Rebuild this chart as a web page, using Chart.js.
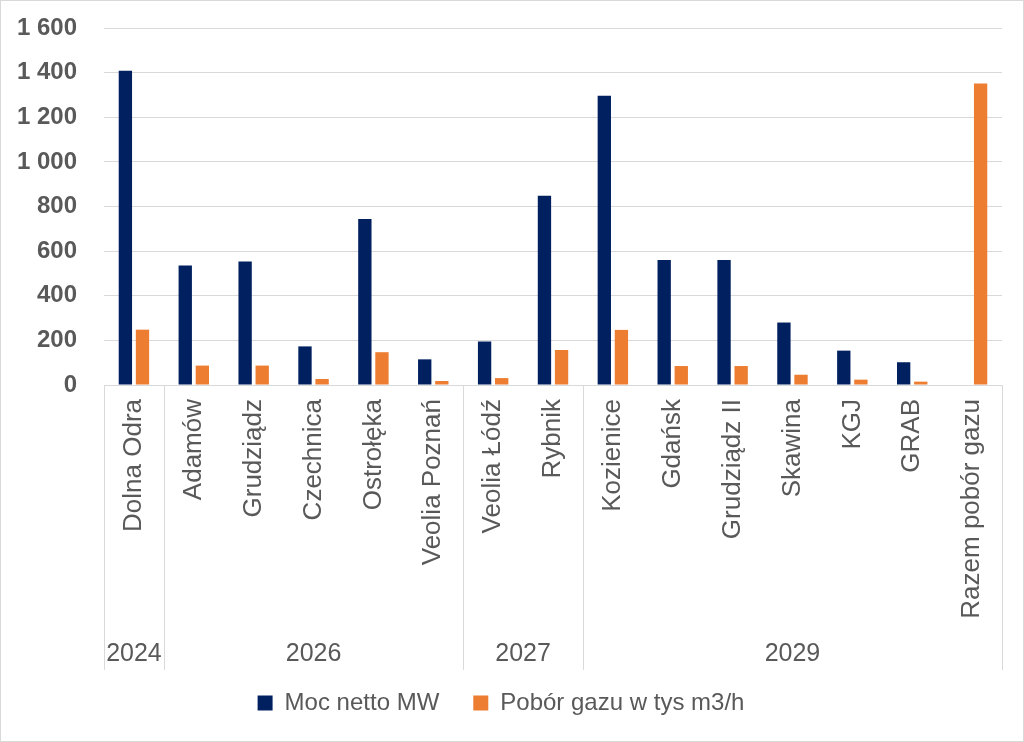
<!DOCTYPE html>
<html lang="pl">
<head>
<meta charset="utf-8">
<title>Moc netto i pobór gazu</title>
<script src="https://cdn.jsdelivr.net/npm/chart.js@4/dist/chart.umd.min.js"></script>
<style>
    html, body { margin: 0; padding: 0; background: #fff; }
    #wrap { width: 1024px; height: 742px; }
</style>
</head>
<body>
<div id="wrap"><canvas id="chart" width="1024" height="742"></canvas></div>
<script>
// --- DONNÉES ---
const categories = ['Dolna Odra', 'Adamów', 'Grudziądz', 'Czechnica', 'Ostrołęka', 'Veolia Poznań',
    'Veolia Łódź', 'Rybnik', 'Kozienice', 'Gdańsk', 'Grudziądz II', 'Skawina', 'KGJ', 'GRAB', 'Razem pobór gazu'];
const mocNetto = [1408, 536, 553, 173, 744, 115, 195, 848, 1296, 560, 560, 280, 154, 102, null];
const poborGazu = [248, 87, 87, 27, 147, 18, 31, 157, 247, 85, 85, 46, 24, 15, 1351];
const yearLabels = ['2024', '2026', '2027', '2029'];
const yearSpans = [1, 5, 2, 7];
const yTicks = [0, 200, 400, 600, 800, 1000, 1200, 1400, 1600];

const FONT = "'Liberation Sans', Arial, sans-serif";
const TEXT_GRAY = '#595959';
const LINE_GRAY = '#d9d9d9';

// "1 600" : séparateur de milliers par espace
const formatTick = (v) => String(v).replace(/\B(?=(\d{3})+(?!\d))/g, ' ');

// --- Second niveau de l'axe X (années) + cadre ---
const yearRowPlugin = {
    id: 'yearRow',
    afterDraw(chart) {
        const { ctx, chartArea, scales: { x } } = chart;
        const w = (x.right - x.left) / categories.length;
        const top = chartArea.bottom;
        const bottom = top + 285;

        ctx.save();
        ctx.strokeStyle = LINE_GRAY;
        ctx.lineWidth = 1;

        let idx = 0;
        const edges = [0];
        yearSpans.forEach(s => { idx += s; edges.push(idx); });
        edges.forEach(e => {
            const px = Math.round(x.left + e * w) + 0.5;
            ctx.beginPath();
            ctx.moveTo(px, top);
            ctx.lineTo(px, bottom);
            ctx.stroke();
        });

        ctx.fillStyle = TEXT_GRAY;
        ctx.font = `25px ${FONT}`;
        ctx.textAlign = 'center';
        ctx.textBaseline = 'middle';
        yearLabels.forEach((label, i) => {
            const cx = x.left + (edges[i] + edges[i + 1]) / 2 * w;
            ctx.fillText(label, cx, top + 269);
        });

        // cadre extérieur
        ctx.strokeRect(0.5, 0.5, chart.width - 1, chart.height - 1);
        ctx.restore();
    }
};

const whiteBg = {
    id: 'whiteBg',
    beforeDraw(chart) {
        const { ctx } = chart;
        ctx.save();
        ctx.fillStyle = '#fff';
        ctx.fillRect(0, 0, chart.width, chart.height);
        ctx.restore();
    }
};

new Chart(document.getElementById('chart'), {
    type: 'bar',
    data: {
        labels: categories,
        datasets: [
            {
                label: 'Moc netto MW',
                data: mocNetto,
                backgroundColor: '#002060',
                categoryPercentage: 0.571,
                barPercentage: 0.78
            },
            {
                label: 'Pobór gazu w tys m3/h',
                data: poborGazu,
                backgroundColor: '#ED7D31',
                categoryPercentage: 0.571,
                barPercentage: 0.78
            }
        ]
    },
    options: {
        responsive: false,
        animation: false,
        layout: { padding: { top: 28, right: 22, bottom: 17, left: 0 } },
        plugins: {
            tooltip: { enabled: false },
            legend: {
                position: 'bottom',
                labels: {
                    boxWidth: 15,
                    boxHeight: 15,
                    padding: 34,
                    color: TEXT_GRAY,
                    font: { family: FONT, size: 24 }
                }
            }
        },
        scales: {
            x: {
                grid: { display: false, drawTicks: false },
                border: { display: false },
                ticks: {
                    autoSkip: false,
                    minRotation: 90,
                    maxRotation: 90,
                    padding: 14,
                    color: TEXT_GRAY,
                    font: { family: FONT, size: 26 }
                },
                afterFit(scale) { scale.height = 272; }
            },
            y: {
                min: 0,
                max: 1600,
                afterBuildTicks(scale) { scale.ticks = yTicks.map(v => ({ value: v })); },
                // marques invisibles : elles servent seulement d'écart entre libellés et zone de tracé
                grid: { color: LINE_GRAY, lineWidth: 1, drawTicks: true, tickLength: 27, tickColor: 'rgba(0,0,0,0)' },
                border: { display: false },
                ticks: {
                    padding: 0,
                    color: TEXT_GRAY,
                    font: { family: FONT, size: 24, weight: 'bold' },
                    callback: (v) => formatTick(v)
                },
                afterFit(scale) { scale.width = 104; }
            }
        }
    },
    plugins: [whiteBg, yearRowPlugin]
});
</script>
</body>
</html>
